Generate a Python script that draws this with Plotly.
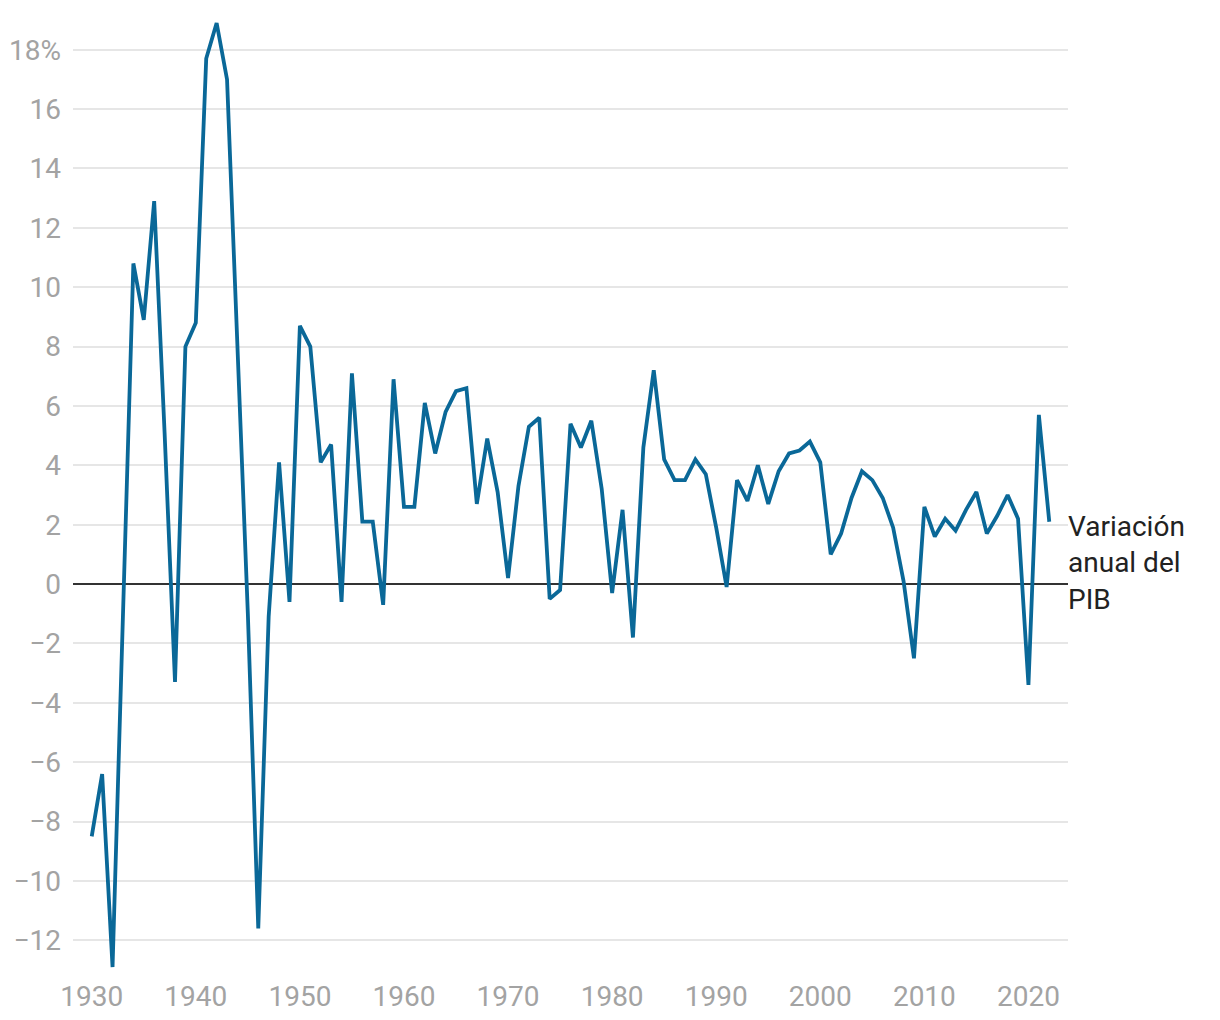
import plotly.graph_objects as go

years = list(range(1930, 2023))
gdp_change = [
    -8.5, -6.4, -12.9, -1.2, 10.8, 8.9, 12.9, 5.1, -3.3, 8.0,      # 1930-1939
    8.8, 17.7, 18.9, 17.0, 8.0, -1.0, -11.6, -1.1, 4.1, -0.6,      # 1940-1949
    8.7, 8.0, 4.1, 4.7, -0.6, 7.1, 2.1, 2.1, -0.7, 6.9,            # 1950-1959
    2.6, 2.6, 6.1, 4.4, 5.8, 6.5, 6.6, 2.7, 4.9, 3.1,              # 1960-1969
    0.2, 3.3, 5.3, 5.6, -0.5, -0.2, 5.4, 4.6, 5.5, 3.2,            # 1970-1979
    -0.3, 2.5, -1.8, 4.6, 7.2, 4.2, 3.5, 3.5, 4.2, 3.7,            # 1980-1989
    1.9, -0.1, 3.5, 2.8, 4.0, 2.7, 3.8, 4.4, 4.5, 4.8,             # 1990-1999
    4.1, 1.0, 1.7, 2.9, 3.8, 3.5, 2.9, 1.9, 0.1, -2.5,             # 2000-2009
    2.6, 1.6, 2.2, 1.8, 2.5, 3.1, 1.7, 2.3, 3.0, 2.2,              # 2010-2019
    -3.4, 5.7, 2.1,                                                 # 2020-2022
]

y_tickvals = [-12, -10, -8, -6, -4, -2, 0, 2, 4, 6, 8, 10, 12, 14, 16, 18]
y_ticktext = ["−12", "−10", "−8", "−6", "−4", "−2", "0", "2", "4", "6",
              "8", "10", "12", "14", "16", "18%"]
x_tickvals = [1930, 1940, 1950, 1960, 1970, 1980, 1990, 2000, 2010, 2020]
x_ticktext = [str(v) for v in x_tickvals]
label_text = "Variación<br>anual del<br>PIB"

FONT = "Roboto, 'Libre Franklin', Arial, sans-serif"

fig = go.Figure()
fig.add_trace(go.Scatter(
    x=years, y=gdp_change, mode="lines",
    line=dict(color="#0a6898", width=3.8),
    hoverinfo="x+y", showlegend=False,
))

fig.add_annotation(
    x=1, xref="paper", y=0.7, yref="y",
    text=label_text, showarrow=False,
    xanchor="left", yanchor="middle", align="left", xshift=-2,
    font=dict(family=FONT, size=28, color="#222222"),
)

fig.update_layout(
    width=1220, height=1020,
    margin=dict(l=65, r=160, t=12, b=58),
    paper_bgcolor="white", plot_bgcolor="white",
    font=dict(family=FONT),
    xaxis=dict(
        range=[1928.2, 2023.8], automargin=False,
        tickvals=x_tickvals, ticktext=x_ticktext,
        showgrid=False, zeroline=False, showline=False, ticks="",
        tickfont=dict(family=FONT, size=28, color="#a3a3a3"),
        ticklabelstandoff=7,
    ),
    yaxis=dict(
        range=[-13, 19], automargin=False,
        tickvals=y_tickvals, ticktext=y_ticktext,
        showgrid=True, gridcolor="#e6e6e6", gridwidth=1.5,
        zeroline=True, zerolinecolor="#333333", zerolinewidth=1.8,
        showline=False, ticks="",
        tickfont=dict(family=FONT, size=28, color="#a3a3a3"),
        ticklabelstandoff=11,
    ),
)

fig.write_html("out.html")
